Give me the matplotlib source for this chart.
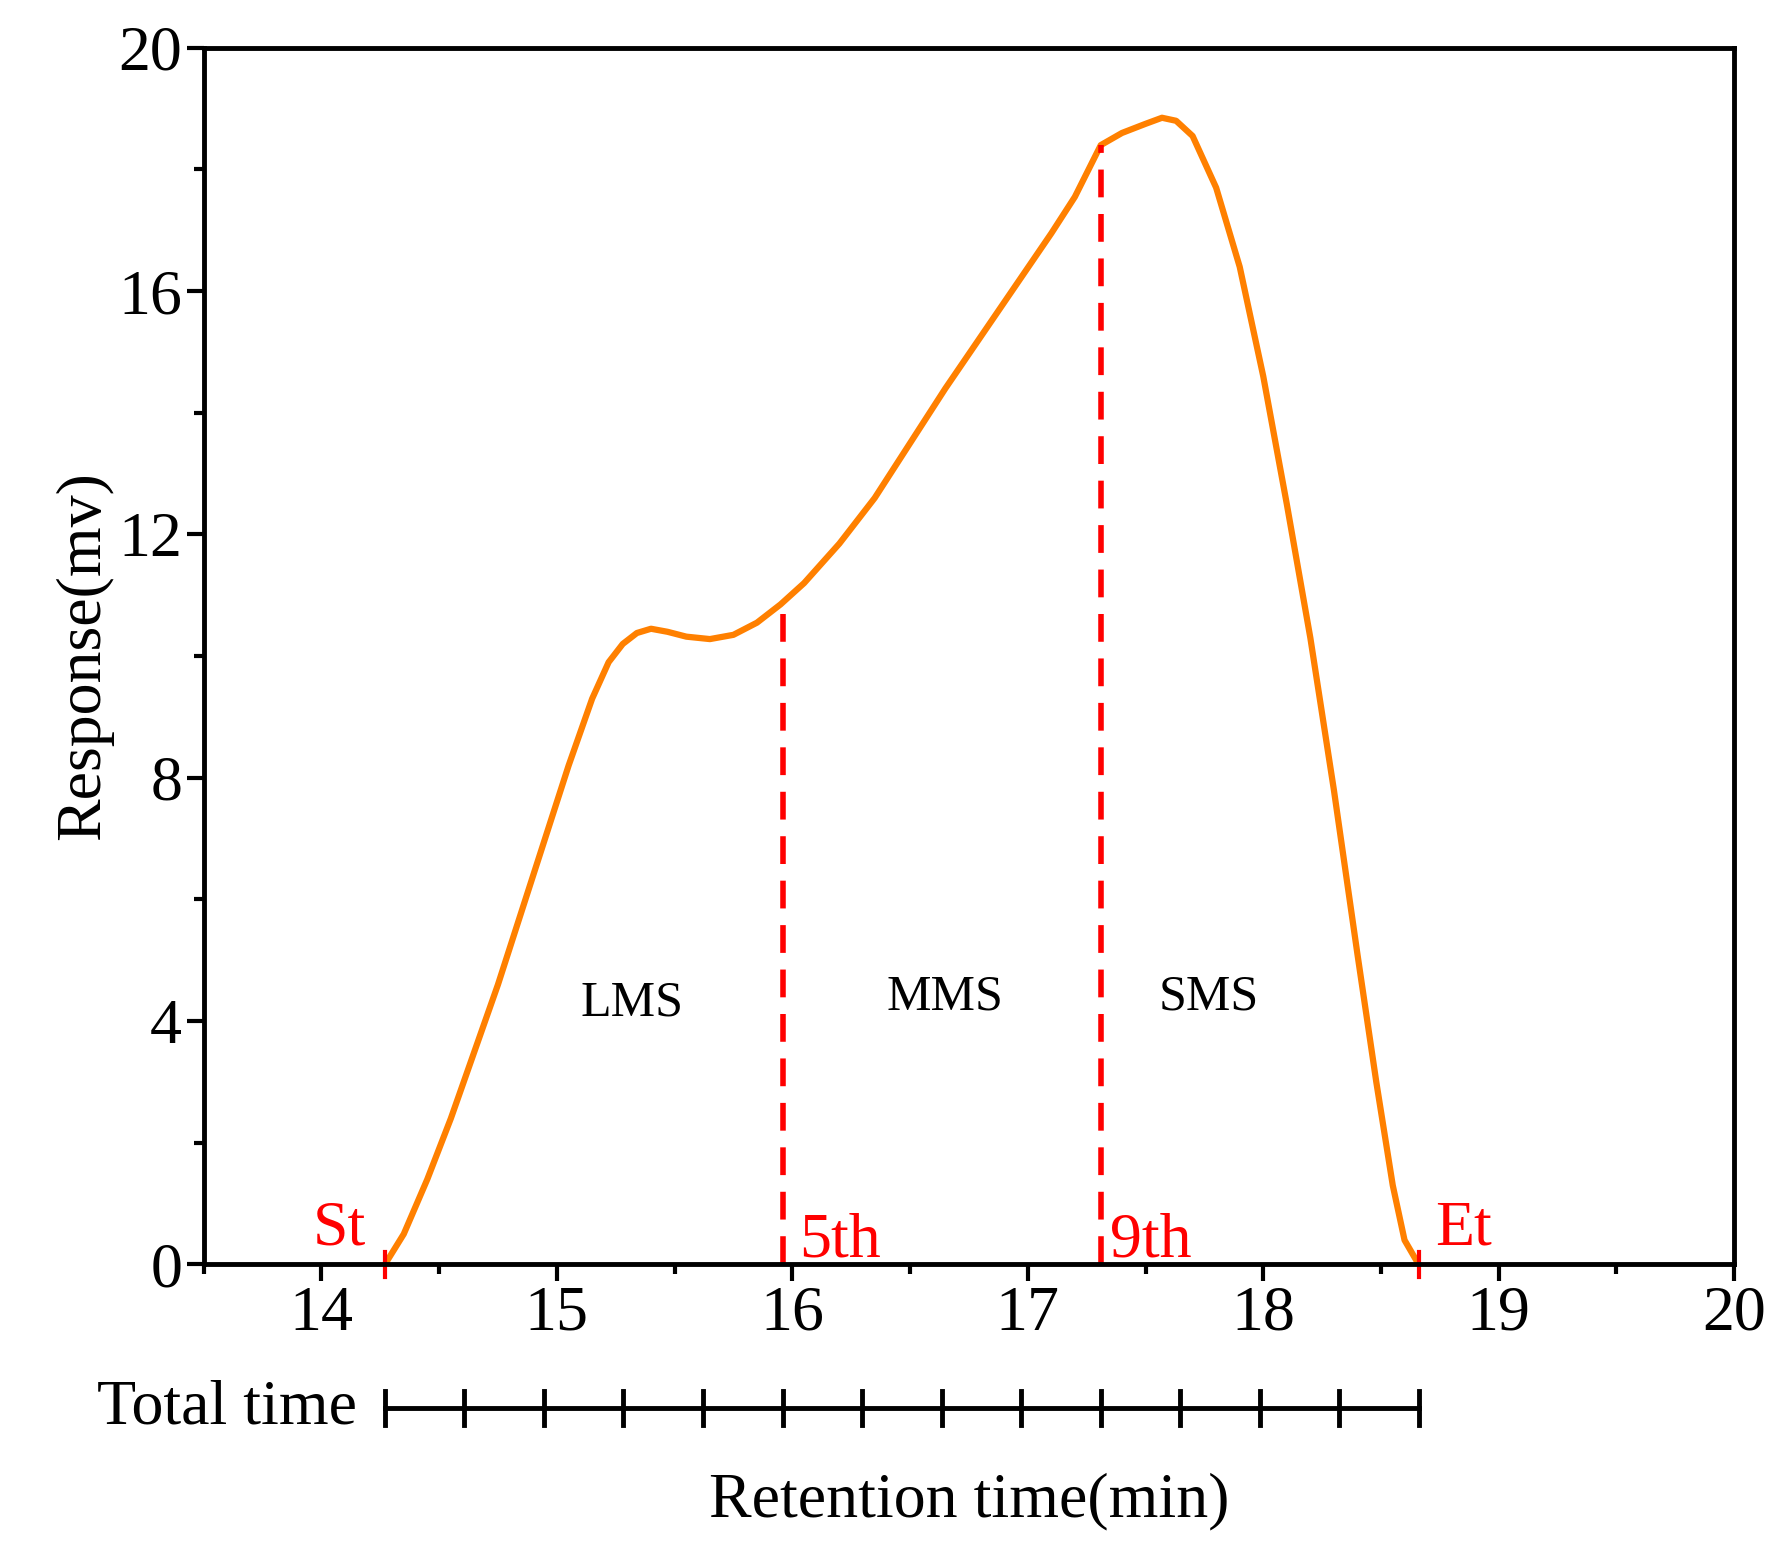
import matplotlib
matplotlib.use("Agg")
import matplotlib.pyplot as plt
import numpy as np
from matplotlib.ticker import MultipleLocator

plt.rcParams["font.family"] = "Liberation Serif"

time = [14.27, 14.35, 14.45, 14.55, 14.65, 14.75, 14.85, 14.95, 15.05, 15.15, 15.22, 15.28, 15.34, 15.4, 15.47, 15.55,
        15.65, 15.75, 15.85, 15.95, 16.05, 16.2, 16.35, 16.5, 16.65, 16.8, 16.95, 17.1, 17.2, 17.31, 17.4,
        17.5, 17.57, 17.63, 17.7, 17.8, 17.9, 18.0, 18.1, 18.2, 18.3, 18.4, 18.48, 18.55, 18.6, 18.66]
resp = [0.0, 0.5, 1.4, 2.4, 3.5, 4.6, 5.8, 7.0, 8.2, 9.3, 9.9, 10.2, 10.38, 10.45, 10.4, 10.32,
        10.28, 10.35, 10.55, 10.85, 11.2, 11.85, 12.6, 13.5, 14.4, 15.25, 16.1, 16.95, 17.55, 18.4, 18.6,
        18.75, 18.85, 18.8, 18.55, 17.7, 16.4, 14.6, 12.5, 10.3, 7.8, 5.1, 3.0, 1.3, 0.4, 0.0]
markers_x = [14.27, 15.96, 17.31, 18.66]
markers_lbl = ["St", "5th", "9th", "Et"]
regions = [("LMS", 15.32, 4.3), ("MMS", 16.65, 4.4), ("SMS", 17.77, 4.4)]
n_total_ticks = 14

fig = plt.figure(figsize=(17.86, 15.42), dpi=100)
ax = fig.add_axes([0.114, 0.180, 0.857, 0.789])
ax.plot(time, resp, color="#FF8000", lw=4.5)
ax.set_xlim(13.5, 20)
ax.set_ylim(0, 20)
ax.xaxis.set_major_locator(MultipleLocator(1))
ax.xaxis.set_minor_locator(MultipleLocator(0.5))
ax.yaxis.set_major_locator(MultipleLocator(4))
ax.yaxis.set_minor_locator(MultipleLocator(2))
ax.tick_params(which="both", direction="out", width=3, labelsize=46)
ax.tick_params(which="major", length=12)
ax.tick_params(which="minor", length=7)
for s in ax.spines.values():
    s.set_linewidth(3.5)
ax.set_ylabel("Response(mv)", fontsize=46)

dash = (5, 3)
ax.plot([markers_x[1]] * 2, [0, 10.7], "--", color="red", lw=4, dashes=dash)
ax.plot([markers_x[2]] * 2, [0, 18.4], "--", color="red", lw=4, dashes=dash)
for xm in (markers_x[0], markers_x[3]):
    ax.plot([xm, xm], [-0.2, 0.2], color="red", lw=3, clip_on=False)
ax.text(markers_x[0] - 0.08, 0.1, "St", color="red", fontsize=46, ha="right", va="bottom")
ax.text(markers_x[1] + 0.07, -0.1, "5th", color="red", fontsize=46, ha="left", va="bottom")
ax.text(markers_x[2] + 0.04, -0.1, "9th", color="red", fontsize=46, ha="left", va="bottom")
ax.text(markers_x[3] + 0.07, 0.1, "Et", color="red", fontsize=46, ha="left", va="bottom")
for name, xx, yy in regions:
    ax.text(xx, yy, name, fontsize=36, ha="center", va="center")

tr = ax.get_xaxis_transform()
ybar = -0.118
ax.plot([markers_x[0], markers_x[3]], [ybar, ybar], color="black", lw=3.5, transform=tr, clip_on=False)
for xt in np.linspace(markers_x[0], markers_x[3], n_total_ticks):
    ax.plot([xt, xt], [ybar - 0.014, ybar + 0.014], color="black", lw=3.5, transform=tr, clip_on=False)
ax.text(markers_x[0] - 0.12, ybar, "Total time", fontsize=46, ha="right", va="center", transform=tr)
ax.text(16.75, -0.195, "Retention time(min)", fontsize=46, ha="center", va="center", transform=tr)

fig.savefig("out.png", dpi=100)
